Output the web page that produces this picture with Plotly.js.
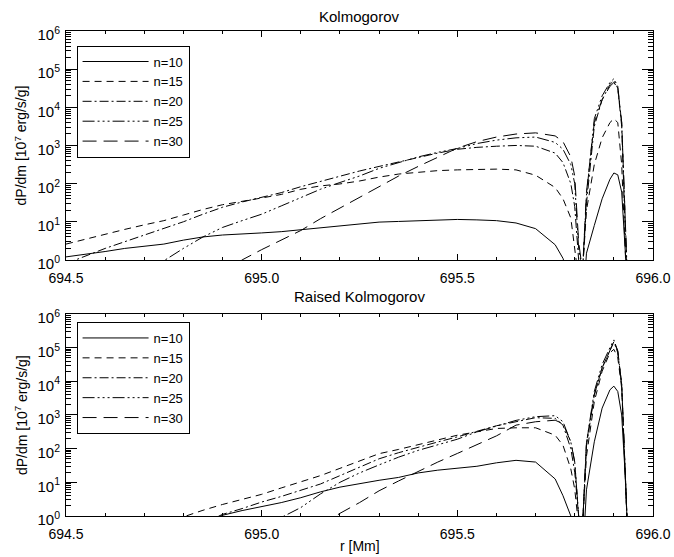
<!DOCTYPE html>
<html>
<head>
<meta charset="utf-8">
<script src="https://cdn.plot.ly/plotly-3.0.1.min.js"></script>
<style>html,body{margin:0;padding:0;background:#fff;}#chart{width:674px;height:557px;}</style>
</head>
<body>
<div id="chart"></div>
<script>
// radius grid [Mm]
const r = [694.50, 694.55, 694.60, 694.65, 694.70, 694.75, 694.80, 694.85, 694.90, 694.95,
           695.00, 695.05, 695.10, 695.15, 695.20, 695.25, 695.30, 695.35, 695.40, 695.45,
           695.50, 695.55, 695.60, 695.65, 695.70, 695.75, 695.77, 695.79, 695.80, 695.81,
           695.82, 695.83, 695.85, 695.87, 695.89, 695.90, 695.91, 695.92, 695.93, 695.94];

const seriesNames = ["n=10", "n=15", "n=20", "n=25", "n=30"];

// Kolmogorov, dP/dm [1e7 erg/s/g]
const kolN10 = [1.2, 1.4, 1.66, 2.0, 2.3, 2.6, 3.3, 4.0, 4.5, 4.9,
                5.1, 5.5, 6.2, 7.1, 7.9, 8.9, 9.8, 10.2, 10.5, 11.2,
                11.5, 11.2, 10.7, 9.3, 6.6, 2.5, 1.1, 0.25, 0.06, 0.01,
                0.05, 1.5, 8, 40, 130, 190, 170, 60, 1.2, 0.01];
const kolN15 = [2.6, 3.5, 4.8, 6.3, 8.3, 10.7, 15, 21, 28, 35,
                42, 52, 71, 87, 98, 117, 148, 178, 200, 219,
                229, 234, 240, 229, 166, 79, 40, 12.6, 2, 0.3,
                0.5, 20, 316, 1585, 3981, 5012, 3981, 316, 1, 0.01];
const kolN20 = [0.8, 1.26, 2.0, 3.0, 4.5, 6.6, 10, 15.8, 24, 33,
                43, 58, 83, 115, 158, 214, 282, 372, 501, 631,
                794, 891, 955, 1000, 955, 631, 355, 100, 25, 1,
                0.5, 30, 3162, 15849, 39811, 50119, 31623, 3162, 3, 0.01];
const kolN25 = [null, null, null, null, 0.45, 0.95, 2.0, 4.0, 7.1, 10.7,
                15.8, 26, 44, 71, 107, 158, 251, 363, 501, 661,
                832, 1122, 1380, 1585, 1660, 1202, 794, 316, 100, 2,
                0.5, 50, 5012, 19953, 44668, 56234, 35481, 3981, 4, 0.01];
const kolN30 = [null, null, null, null, null, null, null, null, 0.4, 1.0,
                1.86, 3.3, 5.9, 12, 23, 45, 85, 158, 282, 501,
                851, 1259, 1660, 1995, 2138, 1778, 1259, 501, 158, 3,
                0.5, 60, 3981, 15849, 35481, 44668, 31623, 3981, 4, 0.01];

// Raised Kolmogorov
const rkN10 = [null, null, null, null, null, null, null, 0.6, 1.05, 1.45,
               1.86, 2.5, 3.5, 5.2, 7.2, 9.3, 11.5, 14, 19, 23,
               26, 30, 38, 45, 40, 12.6, 4, 1, 0.1, 0.02,
               0.05, 6, 160, 1600, 5600, 7200, 5000, 1000, 10, 0.01];
const rkN15 = [null, null, null, null, null, 0.6, 0.95, 1.48, 2.2, 3.1,
               4.4, 6.8, 10.5, 15.8, 26, 42, 71, 95, 132, 186,
               251, 316, 398, 417, 417, 251, 126, 25, 6.3, 0.5,
               0.5, 60, 2512, 19953, 70795, 89125, 50119, 6310, 10, 0.01];
const rkN20 = [null, null, null, null, null, null, null, 0.6, 1.12, 1.66,
               2.6, 3.8, 5.8, 8.9, 15.8, 28, 50, 76, 112, 158,
               224, 331, 479, 631, 832, 794, 501, 100, 20, 1,
               0.5, 120, 3981, 25119, 89125, 150000, 70795, 7943, 10, 0.01];
const rkN25 = [null, null, null, null, null, null, null, null, null, null,
               0.4, 0.9, 1.78, 4.5, 10, 19, 33, 56, 89, 132,
               191, 316, 479, 692, 891, 955, 631, 158, 40, 1,
               0.5, 150, 5012, 31623, 100000, 170000, 79433, 7943, 10, 0.01];
const rkN30 = [null, null, null, null, null, null, null, null, null, null,
               null, null, null, 0.5, 1.2, 2.5, 5.6, 11, 21, 40,
               72, 132, 240, 500, 630, 700, 550, 160, 40, 1,
               0.5, 150, 4000, 25000, 90000, 150000, 80000, 8000, 10, 0.01];

const xTickVals = [694.5, 695.0, 695.5, 696.0];
const xTickText = ["694.5", "695.0", "695.5", "696.0"];
const yTickVals = [1, 10, 100, 1000, 10000, 100000, 1000000];
const yTickText = ["10<sup>0</sup>", "10<sup>1</sup>", "10<sup>2</sup>", "10<sup>3</sup>",
                   "10<sup>4</sup>", "10<sup>5</sup>", "10<sup>6</sup>"];

const dashes = ["solid", "7px,5px", "9px,3px,2px,3px",
                "12px,3px,2px,3px,2px,3px,2px,3px", "14px,7px"];

const topSeries = [kolN10, kolN15, kolN20, kolN25, kolN30];
const botSeries = [rkN10, rkN15, rkN20, rkN25, rkN30];

const traces = [];
topSeries.forEach((ys, i) => traces.push({
  x: r, y: ys, type: "scatter", mode: "lines", name: seriesNames[i],
  xaxis: "x", yaxis: "y", legend: "legend",
  line: {color: "black", width: 1, dash: dashes[i]}, connectgaps: false
}));
botSeries.forEach((ys, i) => traces.push({
  x: r, y: ys, type: "scatter", mode: "lines", name: seriesNames[i],
  xaxis: "x2", yaxis: "y2", legend: "legend2",
  line: {color: "black", width: 1, dash: dashes[i]}, connectgaps: false
}));

const FONT = "Liberation Sans, Arial, sans-serif";

function xAxis(anchor) {
  return {
    anchor: anchor, range: [694.5, 696.0], tickmode: "array",
    tickvals: xTickVals, ticktext: xTickText,
    ticks: "inside", ticklen: 6, tickcolor: "black", tickwidth: 1,
    minor: {dtick: 0.1, tick0: 694.5, ticks: "inside", ticklen: 3, tickcolor: "black"},
    showline: true, linecolor: "black", linewidth: 1, mirror: "ticks",
    showgrid: false, zeroline: false, ticklabelstandoff: 5,
    tickfont: {family: FONT, size: 14, color: "black"}
  };
}
function yAxis(anchor, domain) {
  return {
    anchor: anchor, domain: domain, type: "log", range: [0, 6],
    tickmode: "array", tickvals: yTickVals, ticktext: yTickText,
    ticks: "inside", ticklen: 11, tickcolor: "black", tickwidth: 1,
    minor: {dtick: "D1", ticks: "inside", ticklen: 5, tickcolor: "black"},
    showline: true, linecolor: "black", linewidth: 1, mirror: "ticks",
    showgrid: false, zeroline: false, ticklabelshift: 4, ticklabelstandoff: 2,
    tickfont: {family: FONT, size: 15, color: "black"}
  };
}

const legendBase = {
  bordercolor: "black", borderwidth: 1, bgcolor: "rgba(255,255,255,0)",
  xanchor: "left", yanchor: "top", tracegroupgap: 0, itemclick: false,
  itemwidth: 66,
  font: {family: FONT, size: 13, color: "black"}
};

const layout = {
  width: 674, height: 557,
  margin: {l: 66, r: 21, t: 31, b: 41},
  paper_bgcolor: "white", plot_bgcolor: "white",
  showlegend: true,
  font: {family: FONT, color: "black"},
  xaxis: xAxis("y"),
  yaxis: yAxis("x", [0.528, 1]),
  xaxis2: xAxis("y2"),
  yaxis2: yAxis("x2", [0, 0.4165]),
  legend: Object.assign({}, legendBase, {x: 0.018, y: 0.97}),
  legend2: Object.assign({}, legendBase, {x: 0.018, y: 0.4}),
  annotations: [
    {text: "Kolmogorov", xref: "paper", yref: "paper", x: 0.5, y: 1.03,
     xanchor: "center", yanchor: "middle",
     showarrow: false, font: {family: FONT, size: 15}},
    {text: "Raised Kolmogorov", xref: "paper", yref: "paper", x: 0.5, y: 0.452,
     xanchor: "center", yanchor: "middle",
     showarrow: false, font: {family: FONT, size: 15}},
    {text: "dP/dm [10<sup>7</sup> erg/s/g]", xref: "paper", yref: "paper",
     x: -0.0767, y: 0.764, xanchor: "center", yanchor: "middle",
     textangle: -90, showarrow: false, font: {family: FONT, size: 14}},
    {text: "dP/dm [10<sup>7</sup> erg/s/g]", xref: "paper", yref: "paper",
     x: -0.0767, y: 0.208, xanchor: "center", yanchor: "middle",
     textangle: -90, showarrow: false, font: {family: FONT, size: 14}},
    {text: "r [Mm]", xref: "paper", yref: "paper", x: 0.5, y: -0.062,
     xanchor: "center", yanchor: "middle",
     showarrow: false, font: {family: FONT, size: 14}}
  ]
};

Plotly.newPlot("chart", traces, layout, {staticPlot: true, displayModeBar: false});
</script>
</body>
</html>
